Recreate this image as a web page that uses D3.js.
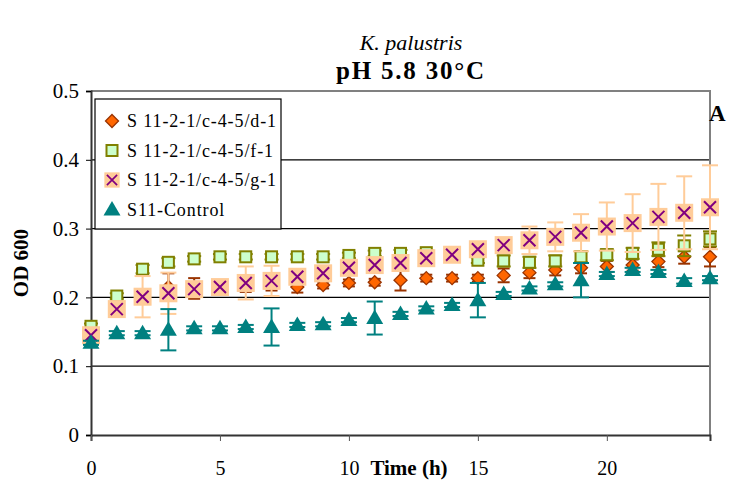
<!DOCTYPE html>
<html>
<head>
<meta charset="utf-8">
<script src="https://cdn.jsdelivr.net/npm/d3@7"></script>
<style>
  body { margin: 0; background: #fff; }
  svg text { font-family: "Liberation Serif", "DejaVu Serif", serif; }
</style>
</head>
<body>
<div id="chart"></div>
<script>
const hours = [0, 1, 2, 3, 4, 5, 6, 7, 8, 9, 10, 11, 12, 13, 14, 15, 16, 17, 18, 19, 20, 21, 22, 23, 24];

const seriesNames = ['S 11-2-1/c-4-5/d-1', 'S 11-2-1/c-4-5/f-1', 'S 11-2-1/c-4-5/g-1', 'S11-Control'];

const dVals = [0.150, 0.185, 0.200, 0.215, 0.213, 0.215, 0.218, 0.220, 0.215, 0.218, 0.221, 0.222, 0.225, 0.228, 0.228, 0.228, 0.232, 0.236, 0.240, 0.243, 0.245, 0.247, 0.252, 0.259, 0.259];
const dErr  = [0.005, 0.005, 0.005, 0.020, 0.015, 0.005, 0.010, 0.010, 0.008, 0.005, 0.005, 0.005, 0.015, 0.005, 0.005, 0.005, 0.010, 0.008, 0.008, 0.008, 0.008, 0.008, 0.008, 0.010, 0.014];

const fVals = [0.158, 0.202, 0.241, 0.251, 0.256, 0.259, 0.259, 0.259, 0.259, 0.259, 0.261, 0.264, 0.264, 0.265, 0.262, 0.254, 0.253, 0.251, 0.253, 0.259, 0.262, 0.264, 0.270, 0.275, 0.285];
const fErr  = [0.004, 0.004, 0.006, 0.006, 0.004, 0.004, 0.004, 0.004, 0.004, 0.004, 0.004, 0.004, 0.005, 0.004, 0.004, 0.004, 0.008, 0.008, 0.008, 0.008, 0.008, 0.008, 0.010, 0.015, 0.011];

const gVals = [0.145, 0.183, 0.201, 0.206, 0.212, 0.215, 0.221, 0.224, 0.230, 0.235, 0.243, 0.247, 0.250, 0.257, 0.262, 0.270, 0.276, 0.283, 0.288, 0.294, 0.303, 0.308, 0.317, 0.323, 0.331];
const gErr  = [0.003, 0.003, 0.030, 0.030, 0.005, 0.005, 0.024, 0.022, 0.005, 0.005, 0.005, 0.005, 0.005, 0.005, 0.005, 0.008, 0.008, 0.020, 0.021, 0.027, 0.035, 0.042, 0.048, 0.053, 0.061];

const cVals = [0.134, 0.148, 0.148, 0.153, 0.155, 0.155, 0.157, 0.157, 0.160, 0.161, 0.167, 0.170, 0.176, 0.184, 0.189, 0.196, 0.205, 0.213, 0.219, 0.225, 0.234, 0.240, 0.237, 0.224, 0.228];
const cErr  = [0.003, 0.003, 0.003, 0.030, 0.003, 0.003, 0.003, 0.027, 0.003, 0.003, 0.003, 0.024, 0.003, 0.003, 0.003, 0.025, 0.003, 0.003, 0.003, 0.025, 0.003, 0.003, 0.003, 0.004, 0.003];

const yTicks = [0, 0.1, 0.2, 0.3, 0.4, 0.5];
const xTicks = [0, 5, 10, 15, 20];

const W = 729, H = 482;
const margin = { top: 91, right: 19, bottom: 47, left: 91 };
const serif = '"Liberation Serif", "DejaVu Serif", serif';

const svg = d3.select('#chart').append('svg')
    .attr('width', W)
    .attr('height', H);

const x = d3.scaleLinear().domain([0, 24]).range([margin.left, W - margin.right]);
const y = d3.scaleLinear().domain([0, 0.5]).range([H - margin.bottom, margin.top]);

// gridlines
svg.append('g')
    .selectAll('line')
    .data(yTicks.filter(t => t > 0 && t < 0.5))
    .enter().append('line')
    .attr('x1', x(0)).attr('x2', x(24))
    .attr('y1', d => y(d)).attr('y2', d => y(d))
    .attr('stroke', '#000').attr('stroke-width', 1.3);

// frame top / right (grey)
svg.append('path')
    .attr('d', `M${x(0)},${y(0.5)}H${x(24)}V${y(0)}`)
    .attr('fill', 'none').attr('stroke', '#808080').attr('stroke-width', 2);

// Y axis
const yAxis = svg.append('g')
    .attr('transform', `translate(${x(0)},0)`)
    .call(d3.axisLeft(y).tickValues(yTicks).tickFormat(d => d === 0 ? '0' : d3.format('.1f')(d)).tickSize(5).tickPadding(7));
yAxis.attr('font-family', null);
yAxis.select('.domain').attr('stroke', '#333').attr('stroke-width', 2);
yAxis.selectAll('.tick line').attr('stroke', '#000');
yAxis.selectAll('text').attr('font-size', 21).attr('fill', '#000')
    .style('font-family', serif);

// X axis
const xAxis = svg.append('g')
    .attr('transform', `translate(0,${y(0)})`)
    .call(d3.axisBottom(x).tickValues(xTicks).tickFormat(d3.format('d')).tickSize(6).tickPadding(20));
xAxis.attr('font-family', null);
xAxis.select('.domain').attr('stroke', '#333').attr('stroke-width', 2);
xAxis.selectAll('.tick line').attr('stroke', '#555');
xAxis.selectAll('text').attr('font-size', 20).attr('fill', '#000')
    .style('font-family', serif);

// titles
svg.append('text').attr('x', 411).attr('y', 50)
    .attr('text-anchor', 'middle').attr('font-size', 22).attr('font-style', 'italic')
    .style('font-family', serif)
    .text('K. palustris');
svg.append('text').attr('x', 411).attr('y', 79)
    .attr('text-anchor', 'middle').attr('font-size', 25).attr('font-weight', 'bold')
    .attr('letter-spacing', 1.8)
    .style('font-family', serif)
    .text('pH 5.8 30°C');
svg.append('text').attr('x', 409).attr('y', 475)
    .attr('text-anchor', 'middle').attr('font-size', 21).attr('font-weight', 'bold')
    .style('font-family', serif)
    .text('Time (h)');
svg.append('text')
    .attr('transform', `translate(28,${y(0.25)}) rotate(-90)`)
    .attr('text-anchor', 'middle').attr('font-size', 21).attr('font-weight', 'bold')
    .style('font-family', serif)
    .text('OD 600');
svg.append('text').attr('x', 709).attr('y', 121)
    .attr('font-size', 23).attr('font-weight', 'bold')
    .style('font-family', serif)
    .text('A');

// marker drawing helpers
function drawMarker(g, kind) {
    if (kind === 'diamond') {
        g.append('path').attr('d', 'M0,-6.5L6.5,0L0,6.5L-6.5,0Z')
            .attr('fill', '#ff6600').attr('stroke', '#993300').attr('stroke-width', 1.3);
    } else if (kind === 'square') {
        g.append('rect').attr('x', -5.5).attr('y', -5.5).attr('width', 11).attr('height', 11)
            .attr('fill', '#ccffcc').attr('stroke', '#808000').attr('stroke-width', 2);
    } else if (kind === 'cross') {
        g.append('rect').attr('x', -9).attr('y', -9).attr('width', 18).attr('height', 18)
            .attr('fill', '#ffcc99');
        g.append('path').attr('d', 'M-6,-6L6,6M6,-6L-6,6')
            .attr('stroke', '#800080').attr('stroke-width', 2);
    } else if (kind === 'triangle') {
        g.append('path').attr('d', 'M0,-8.5L8.5,6L-8.5,6Z')
            .attr('fill', '#008080');
    }
}

const series = [
    { name: seriesNames[0], vals: dVals, err: dErr, kind: 'diamond', errColor: '#993300', cap: 6 },
    { name: seriesNames[1], vals: fVals, err: fErr, kind: 'square', errColor: '#808000', cap: 7 },
    { name: seriesNames[2], vals: gVals, err: gErr, kind: 'cross', errColor: '#ffcc99', cap: 8 },
    { name: seriesNames[3], vals: cVals, err: cErr, kind: 'triangle', errColor: '#008080', cap: 8 }
];

series.forEach(s => {
    const g = svg.append('g');
    const pts = hours.map((h, i) => ({ h, v: s.vals[i], e: s.err[i] }));
    // error bars
    const eb = g.selectAll('.eb').data(pts).enter().append('g')
        .attr('stroke', s.errColor).attr('stroke-width', 2).attr('fill', 'none');
    eb.append('line')
        .attr('x1', d => x(d.h)).attr('x2', d => x(d.h))
        .attr('y1', d => y(d.v + d.e)).attr('y2', d => y(d.v - d.e));
    eb.append('line')
        .attr('x1', d => x(d.h) - s.cap).attr('x2', d => x(d.h) + s.cap)
        .attr('y1', d => y(d.v + d.e)).attr('y2', d => y(d.v + d.e));
    eb.append('line')
        .attr('x1', d => x(d.h) - s.cap).attr('x2', d => x(d.h) + s.cap)
        .attr('y1', d => y(d.v - d.e)).attr('y2', d => y(d.v - d.e));
    // markers
    g.selectAll('.mk').data(pts).enter().append('g')
        .attr('transform', d => `translate(${x(d.h)},${y(d.v)})`)
        .each(function () { drawMarker(d3.select(this), s.kind); });
});

// legend
const lg = svg.append('g').attr('transform', 'translate(95,99)');
lg.append('rect').attr('x', 0).attr('y', 0).attr('width', 186).attr('height', 130)
    .attr('fill', '#fff').attr('stroke', '#000').attr('stroke-width', 1.2);
series.forEach((s, i) => {
    const row = lg.append('g').attr('transform', `translate(0,${22 + i * 29.5})`);
    const mk = row.append('g').attr('transform', 'translate(17,0)');
    drawMarker(mk, s.kind);
    if (s.kind === 'cross') mk.attr('transform', 'translate(17,0) scale(0.85)');
    row.append('text').attr('x', 32).attr('y', 6)
        .attr('font-size', 18).attr('letter-spacing', 0.9)
        .style('font-family', serif).text(s.name);
});
</script>
</body>
</html>
